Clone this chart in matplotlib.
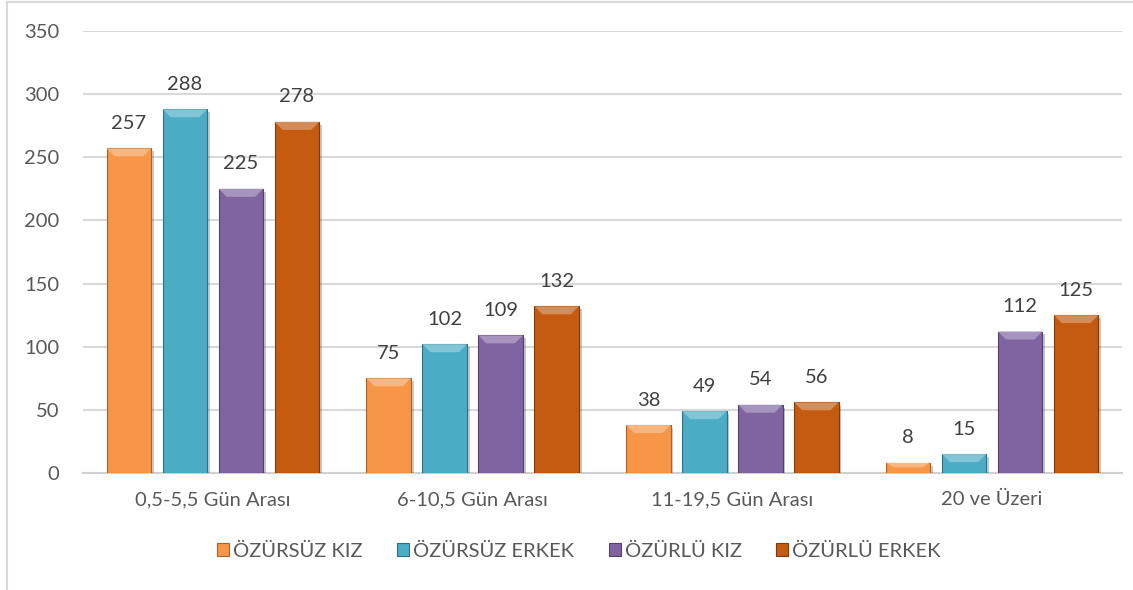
import numpy as np
import matplotlib.pyplot as plt
import matplotlib.patheffects as pe
from matplotlib.patches import Polygon, Patch
from matplotlib.lines import Line2D
from matplotlib.colors import to_rgb

categories = ["0,5-5,5 Gün Arası", "6-10,5 Gün Arası", "11-19,5 Gün Arası", "20 ve Üzeri"]
series_names = ["ÖZÜRSÜZ KIZ", "ÖZÜRSÜZ ERKEK", "ÖZÜRLÜ KIZ", "ÖZÜRLÜ ERKEK"]
ozursuz_kiz = [257, 75, 38, 8]
ozursuz_erkek = [288, 102, 49, 15]
ozurlu_kiz = [225, 109, 54, 112]
ozurlu_erkek = [278, 132, 56, 125]
yticks = [0, 50, 100, 150, 200, 250, 300, 350]

colors = ["#F79646", "#4BACC6", "#8064A2", "#C55A11"]
series = [ozursuz_kiz, ozursuz_erkek, ozurlu_kiz, ozurlu_erkek]

plt.rcParams['font.family'] = ['Lato', 'DejaVu Sans']
fontsize = 14.5


def shade(c, f):
    r, g, b = to_rgb(c)
    if f > 0:
        return (r + (1 - r) * f, g + (1 - g) * f, b + (1 - b) * f)
    return (r * (1 + f), g * (1 + f), b * (1 + f))


fig = plt.figure(figsize=(11.33, 5.90), dpi=100)
ax = fig.add_axes([0.0733, 0.1983, 0.9170, 0.7492])

x = np.arange(len(categories))
pitch = 0.2156
width = 0.171
ax.set_xlim(-0.5, len(categories) - 0.5)
ax.set_ylim(0, 350)

# bevel sizes in pixels, converted to data units
px_y = 350 / 442.0
px_x = 4 / 1039.0
bevel_h = 8 * px_y
bevel_w = 8 * px_x

for i, (vals, col) in enumerate(zip(series, colors)):
    xs = x + (i - 1.5) * pitch
    bars = ax.bar(xs, vals, width, color=col, edgecolor=shade(col, -0.35),
                  linewidth=0.8, zorder=3)
    for b in bars:
        b.set_path_effects([pe.SimplePatchShadow(offset=(2, -2), alpha=0.25),
                            pe.Normal()])
    for xc, v in zip(xs, vals):
        x0, x1 = xc - width / 2, xc + width / 2
        bh = min(bevel_h, v * 0.45)
        top = Polygon([(x0, v), (x1, v), (x1 - bevel_w, v - bh), (x0 + bevel_w, v - bh)],
                      closed=True, facecolor=shade(col, 0.3), edgecolor='none', zorder=4)
        ax.add_patch(top)
        ax.text(xc, v + 13, str(v), ha='center', va='bottom', fontsize=fontsize,
                color='#404040', zorder=5)

ax.set_yticks(yticks)
ax.yaxis.grid(True, color='#D9D9D9', linewidth=1.5, zorder=0)
ax.set_axisbelow(True)
for s in ['top', 'right', 'left']:
    ax.spines[s].set_visible(False)
ax.spines['bottom'].set_color('#D0D0D0')
ax.spines['bottom'].set_linewidth(1.5)
ax.tick_params(axis='both', length=0, labelsize=fontsize, colors='#595959')
ax.tick_params(axis='x', pad=13)
ax.tick_params(axis='y', pad=17)
ax.set_xticks(x)
ax.set_xticklabels(categories)

handles = [Patch(facecolor=c, edgecolor=shade(c, -0.35), linewidth=0.8) for c in colors]
fig.legend(handles, series_names, loc='center', bbox_to_anchor=(0.511, 0.066),
           ncol=4, frameon=False, fontsize=fontsize, handlelength=0.6,
           handleheight=0.6, handletextpad=0.2, columnspacing=1.7,
           labelcolor='#595959')

# chart border (light gray, left and top visible)
fig.add_artist(Line2D([7 / 1133, 7 / 1133], [0, 1 - 2 / 590], transform=fig.transFigure,
                      color='#D9D9D9', linewidth=1.5))
fig.add_artist(Line2D([7 / 1133, 1], [1 - 2 / 590, 1 - 2 / 590], transform=fig.transFigure,
                      color='#D9D9D9', linewidth=1.5))

plt.savefig("out.png", dpi=100)
